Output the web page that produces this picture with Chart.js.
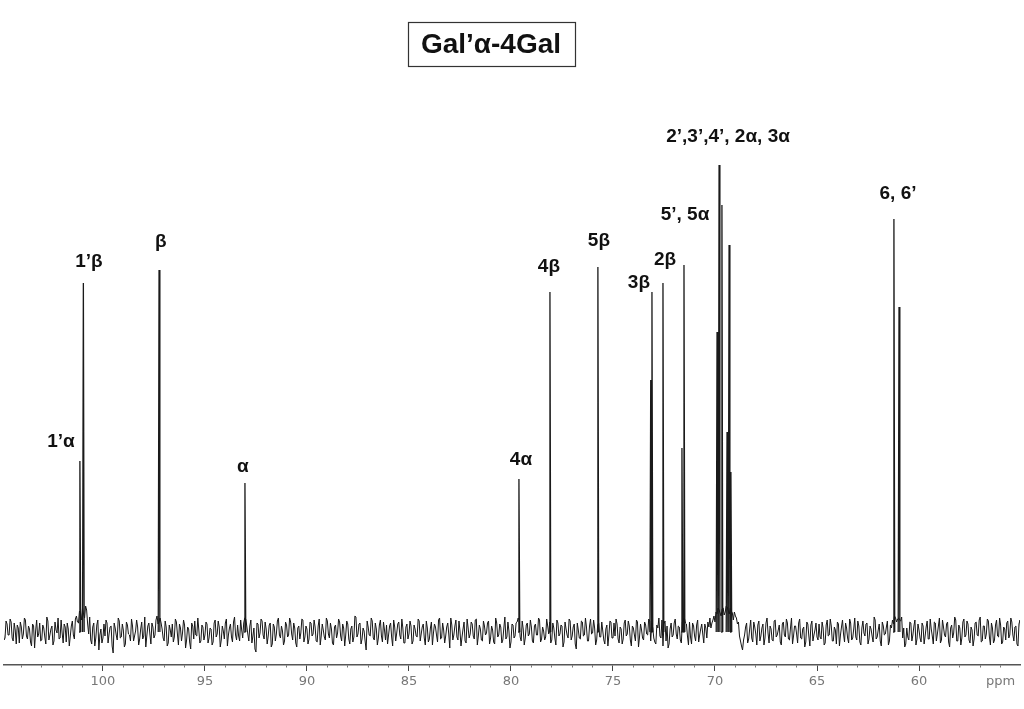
<!DOCTYPE html>
<html>
<head>
<meta charset="utf-8">
<script src="https://cdn.jsdelivr.net/npm/chart.js@4"></script>
<style>
  html, body { margin: 0; padding: 0; background: #fff; }
  #wrap { width: 1024px; height: 709px; position: relative; }
</style>
</head>
<body>
<div id="wrap"><canvas id="nmr"></canvas></div>
<script>
// 13C spectrum, ppm axis runs right-to-left
const X_MIN = 55.05;
const X_MAX = 104.85;

// peak positions (ppm) and heights (arbitrary intensity)
const peakPpm    = [101.13, 100.96, 97.25, 93.04, 79.61, 78.09, 75.74, 73.15, 73.09, 72.55, 71.62, 71.52, 69.90, 69.80, 69.66, 69.41, 69.31, 69.22, 61.23, 60.98];
const peakHeight = [171,    349,    362,   149,   153,   340,   365,   252,   340,   349,   184,   367,   300,   467,   427,   200,   387,   160,   413,   325];

// baseline noise, one value every 0.1 ppm from 104.9 down to 55.0
const noiseStart = 104.9;
const noiseStep  = 0.1;
const noise = [
  4,-6,8,-3,10,-9,2,7,-11,5,-2,12,-7,3,-14,6,1,-5,9,-8,4,-12,11,-3,6,-9,2,14,-6,-1,8,-10,3,-4,11,-7,16,9,19,24,14,22,-2,-8,5,-14,7,-18,3,-6,
  -4,9,-2,6,-21,4,-8,11,-5,2,-12,7,-3,13,-9,1,5,-7,10,-4,-15,6,-2,9,-6,12,8,14,3,-9,5,-11,2,8,-5,10,-13,4,-1,7,-8,3,-17,6,11,-4,2,-9,5,-3,
  8,-6,3,-10,12,-2,5,-8,1,9,-14,4,-5,10,-3,7,-9,2,9,13,-2,6,-11,4,-20,8,-1,11,-7,3,-4,9,-12,5,-2,14,-6,1,-9,7,-3,10,-8,4,-15,6,-1,12,-5,3,
  -7,9,-2,5,-10,13,-4,2,-8,11,-6,3,-13,7,-1,10,-9,4,-3,8,-12,6,-5,15,-2,9,-7,1,-18,5,-4,11,-8,3,-6,12,-10,2,7,-3,9,-14,5,-1,10,-7,4,-11,8,-2,
  6,-9,3,-5,11,-2,8,-13,4,-7,10,-1,5,-10,14,-6,2,-4,9,-16,7,-3,12,-8,1,-5,10,-11,4,-2,8,-7,13,-4,3,-9,6,-1,11,-6,2,-12,9,-3,5,-8,15,-5,1,-10,
  7,-4,10,12,-9,3,-6,9,-2,5,-11,8,-3,12,-7,1,-5,6,10,-8,4,-13,9,-2,6,-10,3,-6,11,-4,8,-17,2,-7,10,-3,5,-9,13,-1,4,-8,9,-5,1,-12,7,-3,10,-6,
  -4,8,-11,3,-7,12,-2,6,-14,4,-9,10,-5,2,-8,7,-3,11,9,-6,-12,4,-4,12,8,-9,-16,3,-5,9,-2,6,-8,10,14,8,-13,-5,9,-4,7,-10,3,-2,8,-6,5,4,12,10,
  18,22,16,24,20,25,18,21,12,16,8,-4,-14,-8,5,-11,3,-6,10,-2,7,-9,4,-13,9,-1,6,-8,11,-5,2,-10,8,-3,13,-7,4,-12,6,-2,9,-6,3,-15,10,-4,7,-9,2,-5,
  8,-7,4,-11,12,-3,6,-9,2,10,-14,5,-2,9,-6,13,-8,3,-5,11,-10,4,-1,8,-12,6,-4,15,-7,2,-9,10,-3,5,-13,7,12,16,10,14,11,-6,-15,4,-8,9,-3,12,-7,2,
  -10,6,-4,11,-7,3,-12,9,-2,14,-8,5,-5,10,-15,7,-1,12,-9,4,-6,13,-3,8,-11,2,-7,10,-4,15,-9,6,-2,11,-13,4,-8,12,-5,7,-10,3,9,-6,14,-3,5,-12,8,-4
];
// second read of the noise, sampled half a step later (104.85 down to 54.95)
const noise2Start = 104.85;
const noise2 = [
  -8,11,-3,13,-6,9,-12,4,10,-7,14,-4,6,-10,8,-16,12,-2,-9,7,-5,15,-8,3,-13,10,-1,-7,12,-11,5,9,-14,6,-3,13,10,21,12,18,26,8,15,-12,9,-6,12,-3,-11,8,
  12,-11,5,-14,9,-3,14,-6,8,-15,10,-2,-9,6,-4,12,-13,3,-7,15,-4,9,-12,5,-3,16,10,9,-6,11,-14,7,-5,-10,13,-2,8,-9,12,-16,5,-10,9,-7,-3,14,-11,7,-8,10,
  -11,4,-13,9,-5,11,-15,6,-7,13,-3,8,-10,15,-8,-4,12,-6,14,6,-9,12,-4,-17,9,-6,13,-3,10,-12,7,-15,8,-9,11,-3,6,-13,10,-5,14,-2,9,-11,4,-7,13,-10,6,-12,
  10,-4,12,-9,6,-13,8,-5,14,-2,9,-11,5,-6,13,-4,8,-14,11,-7,3,-10,16,-5,8,-12,4,-9,11,-3,14,-6,9,-13,7,-4,10,-8,-12,6,-5,12,-9,8,-3,13,-11,5,-7,11,
  -12,7,-4,13,-9,5,-6,11,-10,4,-13,8,-3,12,-7,9,-11,5,-2,14,-8,6,-5,11,-14,3,-9,13,-6,10,-4,12,-13,7,-8,11,-3,9,-12,6,-10,14,-5,8,-11,4,-7,10,-16,8,
  -6,9,14,-5,11,-13,7,-4,12,-9,6,-3,14,-10,5,-8,13,-2,-11,9,-6,12,-4,7,-15,10,-3,13,-8,5,-12,9,-6,11,-4,14,-9,6,-2,12,-13,7,-5,10,-8,3,-14,11,-6,9,
  13,-7,5,-12,9,-4,11,-8,6,-3,12,-15,8,-6,10,-2,13,-9,4,-10,7,14,-6,-14,11,6,-12,9,-3,13,-7,5,-11,12,9,-4,10,-12,6,-9,12,-3,8,-11,4,10,14,9,16,20,
  24,19,23,17,26,21,24,19,20,14,10,-9,-18,-3,9,-7,12,-10,5,-13,11,-4,8,-6,14,-11,3,-9,12,-3,7,-13,10,-5,9,-8,14,-4,6,-11,13,-7,5,-10,8,-14,11,-3,9,-8,
  -5,10,-13,7,-4,13,-9,5,-12,8,-3,12,-10,4,-11,9,-6,14,-8,6,-13,11,-4,9,-7,3,-10,12,-5,8,-14,6,-2,11,-9,4,8,14,13,12,15,4,-12,-5,10,-9,6,-13,8,-6,
  9,-12,5,-7,13,-4,10,-9,6,-11,12,-3,8,-10,4,-6,15,-9,7,-13,10,-5,11,-8,5,-14,9,-3,12,-10,6,-7,13,-5,9,-11,7,-4,14,-12,5,-8,11,-3,10,-9,6,-14,12,-7
];

// peak assignments: text, ppm of label centre, intensity level of label centre
const labelText  = ["1’α", "1’β", "β", "α", "4α", "4β", "5β", "3β", "2β", "5’, 5α", "2’,3’,4’, 2α, 3α", "6, 6’"];
const labelPpm   = [102.06, 100.69, 97.16, 93.14, 79.51, 78.14, 75.69, 73.73, 72.45, 71.47, 69.36, 61.03];
const labelLevel = [190, 370, 390, 165, 172, 365, 391, 349, 372, 417, 495, 438];

const TITLE = "Gal’α-4Gal";

const noiseData = noise.map((v, i) => ({ x: noiseStart - i * noiseStep, y: v }))
  .concat(noise2.map((v, i) => ({ x: noise2Start - i * noiseStep, y: v })))
  .sort((a, b) => b.x - a.x);

const peakData = [];
peakPpm.forEach((p, i) => {
  peakData.push({ x: p + 0.04, y: 0 }, { x: p, y: peakHeight[i] }, { x: p - 0.04, y: 0 }, { x: p, y: null });
});

const labelPlugin = {
  id: "peakLabels",
  afterDraw(chart) {
    const { ctx, scales: { x, y } } = chart;
    ctx.save();
    ctx.fillStyle = "#111";
    ctx.font = "bold 19px 'Liberation Sans', Arial, sans-serif";
    ctx.textAlign = "center";
    ctx.textBaseline = "middle";
    labelText.forEach((t, i) => {
      ctx.fillText(t, x.getPixelForValue(labelPpm[i]), y.getPixelForValue(labelLevel[i]));
    });

    // boxed title
    ctx.font = "bold 28px 'Liberation Sans', Arial, sans-serif";
    ctx.fillText(TITLE, 491, 45);
    ctx.strokeStyle = "#333";
    ctx.lineWidth = 1.2;
    ctx.strokeRect(408.5, 22.5, 167, 44);
    ctx.restore();
  },
};

new Chart(document.getElementById("nmr"), {
  type: "line",
  data: {
    datasets: [
      {
        label: "noise",
        data: noiseData,
        borderColor: "#161616",
        borderWidth: 1,
        pointRadius: 0,
        tension: 0,
      },
      {
        label: "peaks",
        data: peakData,
        borderColor: "#1a1a1a",
        borderWidth: 1.3,
        pointRadius: 0,
        tension: 0,
        spanGaps: false,
      },
    ],
  },
  options: {
    responsive: true,
    maintainAspectRatio: false,
    animation: false,
    layout: { padding: { left: 4, right: 4, top: 0, bottom: 0 } },
    plugins: { legend: { display: false }, tooltip: { enabled: false } },
    scales: {
      x: {
        type: "linear",
        reverse: true,
        min: X_MIN,
        max: X_MAX,
        afterFit: s => { s.height = 44; },
        border: { display: true, color: "#555", width: 1.5 },
        grid: {
          drawOnChartArea: false,
          tickLength: 6,
          tickColor: c => (Math.round(c.tick.value) % 5 === 0 ? "#444" : "#777"),
          tickBorderDash: c => (Math.round(c.tick.value) % 5 === 0 ? [] : [2, 8]),
        },
        ticks: {
          stepSize: 1,
          includeBounds: false,
          autoSkip: false,
          maxRotation: 0,
          padding: 3,
          color: "#777",
          font: { family: "'DejaVu Sans', sans-serif", size: 13 },
          callback: v => {
            const r = Math.round(v);
            if (r === 56) return "ppm";
            return r % 5 === 0 && r >= 60 && r <= 100 ? String(r) : "";
          },
        },
      },
      y: { display: false, min: -33, max: 632 },
    },
  },
  plugins: [labelPlugin],
});
</script>
</body>
</html>
